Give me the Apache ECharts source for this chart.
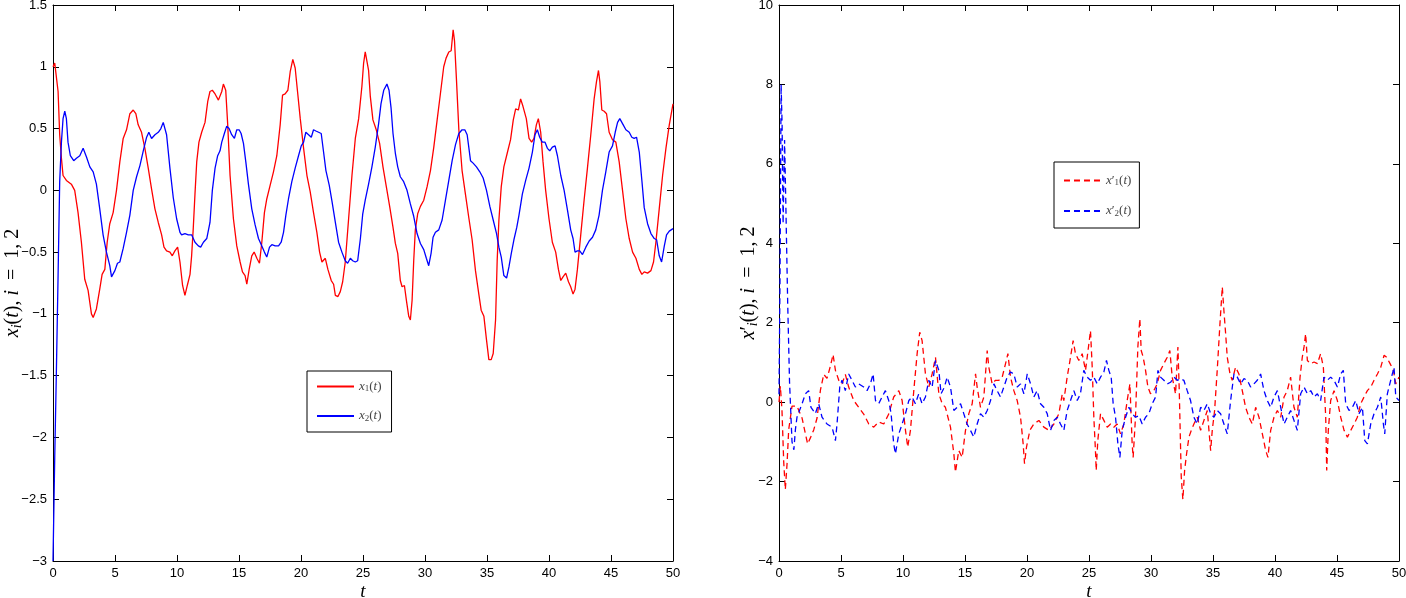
<!DOCTYPE html>
<html>
<head>
<meta charset="utf-8">
<script src="https://cdn.jsdelivr.net/npm/echarts@6/dist/echarts.min.js"></script>
<style>
  html, body { margin: 0; padding: 0; background: #fff; }
  #chart { width: 1406px; height: 598px; }
</style>
</head>
<body>
<div id="chart"></div>
<script>
// left panel: x1(t), x2(t)
var x1T = [0,0.14,0.22,0.41,0.54,0.68,0.81,1.08,1.48,1.75,2.02,2.29,2.56,2.83,3.1,3.24,3.5,3.77,3.96,4.18,4.37,4.58,4.85,5.12,5.39,5.66,5.93,6.2,6.47,6.68,6.87,7.14,7.41,7.68,7.95,8.22,8.49,8.76,8.95,9.16,9.43,9.62,9.83,10.05,10.24,10.45,10.64,10.83,11.05,11.18,11.31,11.45,11.59,11.77,11.99,12.26,12.48,12.66,12.85,13.07,13.34,13.47,13.61,13.74,13.93,14.09,14.28,14.55,14.82,15.09,15.28,15.49,15.63,15.82,16.03,16.22,16.44,16.65,16.84,17.05,17.24,17.51,17.78,18.05,18.32,18.51,18.72,18.94,19.13,19.34,19.53,19.72,19.94,20.21,20.48,20.74,21.01,21.28,21.5,21.69,21.96,22.17,22.44,22.63,22.77,22.98,23.17,23.36,23.57,23.84,24.11,24.38,24.65,24.91,25.05,25.18,25.32,25.45,25.59,25.8,26.07,26.34,26.61,26.88,27.15,27.42,27.61,27.8,28.01,28.15,28.34,28.5,28.69,28.82,28.96,29.09,29.22,29.41,29.63,29.9,30.17,30.44,30.71,30.98,31.24,31.51,31.7,31.92,32.11,32.27,32.38,32.54,32.73,32.99,33.26,33.53,33.8,34.07,34.34,34.53,34.75,34.96,35.15,35.34,35.5,35.69,35.82,35.96,36.15,36.36,36.63,36.9,37.12,37.31,37.53,37.71,37.9,38.17,38.39,38.6,38.79,38.98,39.14,39.33,39.52,39.73,40,40.27,40.54,40.76,40.95,41.13,41.35,41.57,41.75,41.94,42.1,42.29,42.56,42.83,43.1,43.37,43.64,43.83,43.99,44.1,44.26,44.45,44.64,44.85,45.12,45.39,45.66,45.93,46.2,46.47,46.74,47.01,47.28,47.49,47.68,47.95,48.22,48.43,48.62,48.89,49.16,49.43,49.7,50];
var x1V = [1.0,1.03,1.02,0.8,0.45,0.26,0.12,0.08,0.05,0.0,-0.18,-0.42,-0.72,-0.81,-1.0,-1.03,-0.96,-0.8,-0.68,-0.64,-0.42,-0.27,-0.18,0.0,0.23,0.42,0.49,0.62,0.65,0.62,0.53,0.47,0.34,0.18,0.01,-0.15,-0.26,-0.36,-0.46,-0.49,-0.5,-0.53,-0.49,-0.46,-0.58,-0.77,-0.85,-0.77,-0.68,-0.53,-0.31,-0.03,0.23,0.39,0.47,0.55,0.72,0.8,0.81,0.78,0.73,0.72,0.8,0.86,0.81,0.53,0.12,-0.23,-0.45,-0.58,-0.66,-0.69,-0.76,-0.64,-0.53,-0.5,-0.55,-0.59,-0.42,-0.18,-0.07,0.04,0.15,0.28,0.53,0.77,0.78,0.81,0.96,1.06,0.99,0.8,0.58,0.34,0.12,-0.01,-0.18,-0.34,-0.5,-0.58,-0.55,-0.64,-0.73,-0.76,-0.85,-0.86,-0.82,-0.74,-0.58,-0.23,0.12,0.42,0.58,0.84,1.03,1.12,1.11,0.97,0.76,0.57,0.49,0.38,0.19,0.03,-0.13,-0.3,-0.43,-0.51,-0.73,-0.78,-0.77,-0.89,-1.02,-1.05,-0.89,-0.57,-0.32,-0.19,-0.13,-0.08,0.03,0.16,0.35,0.57,0.78,1.0,1.07,1.12,1.13,1.3,1.21,0.89,0.49,0.16,-0.03,-0.22,-0.4,-0.65,-0.84,-0.97,-1.02,-1.21,-1.37,-1.37,-1.32,-1.05,-0.57,-0.24,0.03,0.19,0.3,0.41,0.57,0.66,0.65,0.74,0.68,0.58,0.42,0.39,0.42,0.53,0.58,0.47,0.23,0.0,-0.23,-0.42,-0.5,-0.64,-0.73,-0.7,-0.67,-0.74,-0.78,-0.84,-0.8,-0.64,-0.36,-0.08,0.18,0.45,0.74,0.88,0.97,0.88,0.65,0.64,0.62,0.47,0.41,0.39,0.23,0.0,-0.23,-0.39,-0.5,-0.55,-0.64,-0.68,-0.66,-0.67,-0.65,-0.58,-0.42,-0.15,0.12,0.34,0.53,0.7];

var x2T = [0,0.14,0.27,0.41,0.54,0.68,0.81,0.95,1.08,1.21,1.4,1.67,1.89,2.16,2.43,2.7,2.97,3.24,3.5,3.77,4.04,4.31,4.58,4.72,4.99,5.2,5.39,5.66,5.93,6.2,6.47,6.74,7.01,7.28,7.55,7.73,7.95,8.22,8.49,8.7,8.89,9.16,9.43,9.7,9.97,10.24,10.37,10.64,10.91,11.18,11.45,11.72,11.91,12.13,12.4,12.66,12.85,13.07,13.28,13.47,13.61,13.82,14.01,14.2,14.41,14.63,14.82,15.01,15.17,15.36,15.55,15.76,16.03,16.3,16.57,16.84,17.05,17.24,17.46,17.65,17.92,18.19,18.4,18.59,18.78,18.99,19.26,19.53,19.8,20.02,20.21,20.39,20.61,20.83,21.01,21.2,21.42,21.63,21.82,22.01,22.28,22.5,22.77,23.03,23.3,23.57,23.76,23.98,24.17,24.38,24.57,24.79,24.98,25.18,25.45,25.72,25.99,26.26,26.45,26.67,26.83,26.93,27.1,27.26,27.42,27.61,27.8,28.01,28.28,28.55,28.82,29.09,29.36,29.63,29.9,30.11,30.3,30.49,30.65,30.84,31.11,31.38,31.65,31.92,32.19,32.46,32.73,32.99,33.21,33.4,33.53,33.67,33.88,34.15,34.42,34.69,34.96,35.23,35.5,35.77,35.96,36.15,36.36,36.58,36.77,36.96,37.17,37.4,37.58,37.85,38.12,38.39,38.66,38.87,39.06,39.25,39.46,39.68,39.87,40.06,40.27,40.49,40.68,40.95,41.22,41.49,41.75,41.94,42.1,42.29,42.48,42.7,42.97,43.24,43.51,43.77,44.04,44.31,44.58,44.85,45.12,45.34,45.53,45.71,45.93,46.2,46.47,46.68,46.87,47.06,47.28,47.49,47.68,47.95,48.22,48.49,48.68,48.89,49.08,49.3,49.48,49.7,50];
var x2V = [-3.0,-2.16,-1.48,-0.69,0.07,0.39,0.58,0.64,0.58,0.39,0.28,0.24,0.26,0.28,0.34,0.27,0.19,0.15,0.05,-0.15,-0.36,-0.5,-0.61,-0.7,-0.65,-0.59,-0.58,-0.47,-0.34,-0.2,0.0,0.11,0.2,0.32,0.43,0.47,0.42,0.45,0.47,0.5,0.55,0.45,0.18,-0.06,-0.23,-0.34,-0.36,-0.35,-0.36,-0.36,-0.42,-0.45,-0.46,-0.42,-0.39,-0.26,0.0,0.18,0.28,0.32,0.39,0.46,0.52,0.5,0.45,0.42,0.49,0.49,0.46,0.38,0.23,0.05,-0.15,-0.28,-0.39,-0.45,-0.5,-0.54,-0.46,-0.44,-0.45,-0.45,-0.42,-0.34,-0.2,-0.07,0.07,0.18,0.28,0.36,0.39,0.47,0.45,0.43,0.49,0.48,0.47,0.46,0.31,0.16,0.04,-0.09,-0.26,-0.42,-0.5,-0.57,-0.59,-0.55,-0.57,-0.58,-0.57,-0.39,-0.19,-0.08,0.05,0.19,0.35,0.54,0.7,0.81,0.82,0.86,0.81,0.67,0.46,0.3,0.19,0.11,0.07,0.0,-0.11,-0.21,-0.35,-0.43,-0.48,-0.55,-0.61,-0.51,-0.38,-0.34,-0.32,-0.24,-0.08,0.08,0.24,0.37,0.46,0.49,0.49,0.45,0.35,0.24,0.22,0.19,0.15,0.1,0.0,-0.13,-0.24,-0.35,-0.46,-0.54,-0.69,-0.71,-0.62,-0.51,-0.4,-0.3,-0.2,-0.03,0.08,0.18,0.31,0.45,0.49,0.43,0.39,0.39,0.34,0.32,0.35,0.36,0.28,0.12,0.0,-0.16,-0.32,-0.39,-0.5,-0.49,-0.49,-0.52,-0.46,-0.41,-0.38,-0.32,-0.2,0.0,0.15,0.31,0.36,0.47,0.55,0.58,0.54,0.49,0.47,0.43,0.42,0.43,0.31,0.08,-0.14,-0.27,-0.35,-0.39,-0.4,-0.53,-0.58,-0.45,-0.36,-0.33,-0.31];

// right panel: x1'(t), x2'(t)
var d1T = [0,0.11,0.24,0.38,0.51,0.65,0.78,1.05,1.45,1.86,2.13,2.31,2.53,2.8,3.07,3.34,3.61,3.87,4.14,4.36,4.55,4.82,5.08,5.35,5.62,6.03,6.43,6.83,7.24,7.64,8.04,8.45,8.85,9.25,9.66,9.93,10.2,10.38,10.6,10.87,11.14,11.35,11.54,11.81,12.08,12.35,12.62,12.89,13.16,13.42,13.83,14.1,14.23,14.5,14.77,15.04,15.31,15.58,15.85,15.98,16.25,16.52,16.79,16.92,17.19,17.46,17.73,18,18.27,18.46,18.67,18.94,19.21,19.48,19.69,19.8,19.96,20.23,20.55,20.96,21.36,21.77,22.17,22.57,22.84,22.97,23.24,23.51,23.72,23.91,24.18,24.45,24.72,24.99,25.12,25.26,25.39,25.52,25.58,25.71,25.93,26.2,26.47,26.74,27,27.27,27.54,27.81,28.08,28.3,28.48,28.56,28.75,28.94,29.1,29.21,29.37,29.56,29.75,29.96,30.23,30.5,30.77,31.04,31.31,31.52,31.71,31.98,32.17,32.28,32.44,32.57,32.71,32.87,33.06,33.25,33.46,33.73,34,34.27,34.54,34.81,34.94,35.13,35.34,35.56,35.75,35.88,36.02,36.15,36.37,36.55,36.82,37.09,37.36,37.63,37.9,38.17,38.44,38.71,38.98,39.25,39.43,39.65,39.92,40.19,40.46,40.73,40.99,41.26,41.53,41.8,42.02,42.2,42.34,42.47,42.61,42.88,43.15,43.42,43.68,43.9,44.09,44.17,44.3,44.49,44.76,45.03,45.3,45.57,45.84,46.11,46.38,46.64,46.91,47.18,47.45,47.72,47.99,48.26,48.53,48.8,49.01,49.28,49.55,49.74,50];
var d1V = [0.0,0.4,-0.2,-1.5,-2.2,-1.55,-0.7,-0.1,-0.1,-0.4,-0.8,-1.05,-0.9,-0.7,-0.4,0.3,0.7,0.6,0.9,1.2,0.8,0.55,0.46,0.7,0.38,0.04,-0.13,-0.3,-0.55,-0.63,-0.5,-0.55,-0.3,0.13,0.29,0.04,-0.71,-1.13,-0.71,0.29,1.22,1.76,1.55,0.71,0.38,0.71,1.13,0.21,-0.04,-0.13,-0.63,-1.3,-1.76,-1.22,-1.39,-0.71,-0.29,-0.04,0.71,0.38,-0.13,0.13,1.3,0.88,0.46,0.55,0.55,0.63,0.97,1.22,0.63,0.29,0.04,-0.38,-1.05,-1.55,-1.13,-0.71,-0.55,-0.46,-0.63,-0.71,-0.55,-0.29,0.2,0.04,0.63,1.13,1.55,1.22,1.05,1.22,0.8,1.47,1.8,0.88,-0.38,-1.22,-1.72,-0.97,-0.29,-0.46,-0.63,-0.55,-0.63,-0.55,-0.8,-0.55,0.04,0.46,-1.05,-1.39,-0.38,1.39,2.1,1.3,1.13,0.8,0.38,0.21,0.29,0.46,0.8,0.97,1.13,1.3,0.63,0.21,1.39,0.29,-1.89,-2.45,-1.72,-1.3,-0.88,-0.71,-0.55,-0.38,-0.71,-0.46,-0.21,-1.22,-0.71,-0.21,0.8,1.97,2.9,2.3,1.72,1.13,0.71,0.55,0.88,0.71,0.29,-0.13,-0.38,-0.55,-0.13,-0.38,-0.8,-1.22,-1.39,-0.71,-0.38,-0.21,-0.38,0.13,0.29,0.63,-0.13,-0.38,0.63,1.13,1.39,1.72,1.05,0.97,1.01,0.97,1.22,0.88,-0.38,-1.72,-0.71,0.04,0.29,0.04,-0.38,-0.71,-0.88,-0.71,-0.55,-0.38,-0.04,0.13,0.29,0.38,0.55,0.71,0.88,1.18,1.13,0.97,0.8,0.46,0.63];

var d2T = [0,0.08,0.17,0.25,0.33,0.45,0.55,0.7,0.85,1.05,1.2,1.32,1.45,1.86,2.13,2.39,2.58,2.93,3.2,3.47,3.87,4.28,4.55,4.68,4.9,5.08,5.35,5.62,5.89,6.16,6.43,6.83,7.1,7.37,7.59,7.78,8.04,8.31,8.58,8.85,9.04,9.25,9.39,9.66,9.93,10.2,10.47,10.73,11,11.27,11.54,11.81,12.08,12.35,12.62,12.89,13.07,13.34,13.56,13.83,14.1,14.37,14.64,14.9,15.17,15.44,15.71,15.98,16.25,16.52,16.79,17.06,17.33,17.59,17.86,18.13,18.4,18.67,18.94,19.21,19.48,19.75,20.02,20.29,20.55,20.82,21.09,21.36,21.63,21.9,22.17,22.44,22.7,22.97,23.24,23.51,23.78,24.05,24.31,24.58,24.85,25.12,25.39,25.66,25.93,26.2,26.41,26.6,26.79,26.95,27.14,27.33,27.49,27.68,27.95,28.22,28.48,28.75,29.02,29.29,29.56,29.83,30.1,30.37,30.56,30.77,31.04,31.31,31.58,31.85,32.12,32.39,32.65,32.92,33.19,33.46,33.73,34,34.27,34.54,34.81,35.08,35.34,35.61,35.88,36.15,36.42,36.69,36.96,37.23,37.5,37.77,38.03,38.3,38.57,38.84,39.11,39.38,39.65,39.92,40.19,40.46,40.73,40.99,41.26,41.53,41.8,42.07,42.34,42.61,42.88,43.15,43.42,43.68,43.95,44.22,44.49,44.76,45.03,45.3,45.51,45.7,45.97,46.24,46.51,46.78,47.05,47.24,47.45,47.72,47.99,48.26,48.53,48.74,48.85,49.06,49.33,49.6,49.74,50];
var d2V = [0.2,3.0,8.0,7.0,4.5,6.6,5.0,2.5,0.5,-1.0,-1.2,-0.7,-0.38,-0.04,0.21,0.29,-0.13,-0.29,-0.04,-0.38,-0.55,-0.63,-0.97,-0.55,0.38,0.55,0.29,0.71,0.55,0.38,0.46,0.38,0.29,0.46,0.71,0.04,-0.04,0.13,0.29,0.04,-0.29,-1.05,-1.3,-0.8,-0.55,-0.29,0.04,0.13,-0.04,0.21,-0.04,0.13,0.55,0.38,1.05,0.8,0.21,0.38,0.63,0.38,-0.21,-0.13,-0.04,-0.29,-0.55,-0.71,-0.88,-0.55,-0.29,-0.38,-0.21,0.04,0.46,0.29,0.13,0.38,0.63,0.76,0.71,0.38,0.46,0.21,0.71,0.46,0.13,0.29,-0.04,-0.13,-0.29,-0.71,-0.46,-0.38,-0.55,-0.71,-0.21,0.04,0.29,0.04,0.21,0.8,0.63,0.55,0.63,0.46,0.63,0.76,1.05,0.8,0.63,-0.04,-0.38,-1.05,-1.39,-0.71,-0.38,-0.13,-0.29,-0.38,-0.34,-0.55,-0.38,-0.29,-0.04,0.13,0.8,0.63,0.55,0.46,0.5,0.63,0.55,0.59,0.55,0.29,0.04,-0.38,-0.55,-0.13,-0.21,-0.04,-0.29,-0.38,-0.21,-0.29,-0.55,-0.8,0.04,0.71,0.63,0.46,0.59,0.55,0.38,0.46,0.55,0.71,0.29,0.04,-0.13,0.13,0.29,-0.13,-0.55,-0.38,-0.21,-0.46,-0.71,0.21,0.38,0.21,0.29,0.13,0.21,0.04,0.63,0.55,0.63,0.55,0.38,0.71,0.8,-0.04,-0.21,-0.13,0.04,-0.29,-0.13,-0.97,-1.05,-0.55,-0.29,-0.13,0.13,-0.55,-0.8,0.21,0.55,0.88,0.13,0.04];

var chart = echarts.init(document.getElementById('chart'));

function pairs(t, v) {
  return t.map(function (x, i) { return [x, v[i]]; });
}
function minus(v) {
  return String(v).replace('-', '\u2212');
}

var serif = '"Liberation Serif", "DejaVu Serif", serif';
var sans = '"Liberation Sans", Arial, Helvetica, sans-serif';
var mathRich = {
  it: { fontFamily: serif, fontStyle: 'italic', fontSize: 20, lineHeight: 22, color: '#000' },
  rm: { fontFamily: serif, fontSize: 20, lineHeight: 22, color: '#000' },
  sub: { fontFamily: serif, fontStyle: 'italic', fontSize: 14, lineHeight: 14, verticalAlign: 'bottom', color: '#000' }
};
var legRich = {
  it: { fontFamily: serif, fontStyle: 'italic', fontSize: 13, lineHeight: 14, color: '#444' },
  rm: { fontFamily: serif, fontSize: 13, lineHeight: 14, color: '#444' },
  sub: { fontFamily: serif, fontSize: 9, lineHeight: 8, verticalAlign: 'bottom', color: '#444' }
};

function xAxes(gi) {
  var base = {
    gridIndex: gi, type: 'value', min: 0, max: 50, interval: 5,
    axisLine: { onZero: false, lineStyle: { color: '#000', width: 1 } },
    axisTick: { inside: true, length: 6, lineStyle: { color: '#000' } },
    splitLine: { show: false }
  };
  return [
    Object.assign({}, base, {
      position: 'bottom',
      axisLabel: { color: '#000', fontFamily: sans, fontSize: 13, margin: 6 },
      name: 't', nameLocation: 'middle', nameGap: 21, nameMoveOverlap: false,
      nameTextStyle: { fontFamily: serif, fontStyle: 'italic', fontSize: 19, color: '#000' }
    }),
    Object.assign({}, base, { position: 'top', axisLabel: { show: false } })
  ];
}
function yAxes(gi, min, max, step, name, gap) {
  var base = {
    gridIndex: gi, type: 'value', min: min, max: max, interval: step,
    axisLine: { onZero: false, lineStyle: { color: '#000', width: 1 } },
    axisTick: { inside: true, length: 6, lineStyle: { color: '#000' } },
    splitLine: { show: false }
  };
  return [
    Object.assign({}, base, {
      position: 'left',
      axisLabel: { color: '#000', fontFamily: sans, fontSize: 13, margin: 6, formatter: minus },
      name: name, nameLocation: 'middle', nameGap: gap, nameRotate: 90, nameMoveOverlap: false,
      nameTextStyle: { rich: mathRich }
    }),
    Object.assign({}, base, { position: 'right', axisLabel: { show: false } })
  ];
}

var legendNames = {
  'x1': '{it|x}{sub|1}{rm|(}{it|t}{rm|)}',
  'x2': '{it|x}{sub|2}{rm|(}{it|t}{rm|)}',
  'dx1': '{it|x}{rm|\u2032}{sub|1}{rm|(}{it|t}{rm|)}',
  'dx2': '{it|x}{rm|\u2032}{sub|2}{rm|(}{it|t}{rm|)}'
};
function legend(names, left, top, padding, gap) {
  return {
    data: names, orient: 'vertical', left: left, top: top,
    padding: padding, itemGap: gap, itemWidth: 37, itemHeight: 14,
    backgroundColor: '#fff', borderColor: '#000', borderWidth: 1, borderRadius: 0,
    itemStyle: { opacity: 0 },
    formatter: function (n) { return legendNames[n]; },
    textStyle: { rich: legRich },
    selectedMode: false
  };
}

function line(name, xi, yi, t, v, color, dashed) {
  return {
    name: name, type: 'line', xAxisIndex: xi, yAxisIndex: yi,
    data: pairs(t, v), showSymbol: false, symbol: 'none',
    lineStyle: { color: color, width: 1.3, type: dashed ? [6, 4] : 'solid' },
    itemStyle: { color: color }
  };
}

chart.setOption({
  animation: false,
  backgroundColor: '#fff',
  grid: [
    { left: 53, top: 5, width: 620, height: 556, outerBoundsMode: 'none' },
    { left: 779, top: 5, width: 620, height: 556, outerBoundsMode: 'none' }
  ],
  legend: [
    legend(['x1', 'x2'], 307, 371, [9, 10, 9, 9], 16),
    legend(['dx1', 'dx2'], 1054, 162, [12, 8, 10, 9], 17)
  ],
  xAxis: xAxes(0).concat(xAxes(1)),
  yAxis: yAxes(0, -3, 1.5, 0.5, '{it|x}{sub|i}{rm|(}{it|t}{rm|), }{it|i}{rm|  =  1, 2}', 29)
    .concat(yAxes(1, -4, 10, 2, '{it|x}{rm|\u2032}{sub|i}{rm|(}{it|t}{rm|), }{it|i}{rm|  =  1, 2}', 19)),
  series: [
    line('x1', 0, 0, x1T, x1V, '#ff0000', false),
    line('x2', 0, 0, x2T, x2V, '#0000ff', false),
    line('dx1', 2, 2, d1T, d1V, '#ff0000', true),
    line('dx2', 2, 2, d2T, d2V, '#0000ff', true)
  ]
});
</script>
</body>
</html>
